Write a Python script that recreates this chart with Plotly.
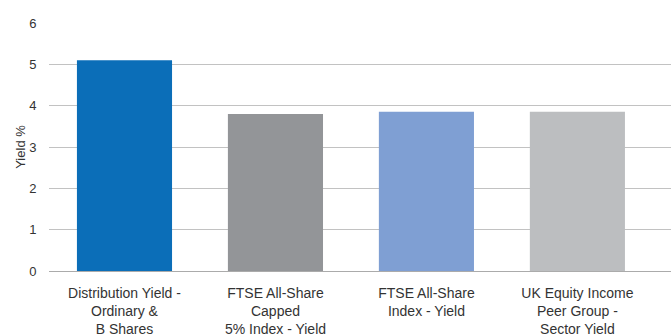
import plotly.graph_objects as go

categories = ["Distribution Yield -<br>Ordinary &<br>B Shares",
              "FTSE All-Share<br>Capped<br>5% Index - Yield",
              "FTSE All-Share<br>Index - Yield",
              "UK Equity Income<br>Peer Group -<br>Sector Yield"]
values = [5.10, 3.80, 3.85, 3.85]
colors = ["#0B6EB8", "#939598", "#7F9FD3", "#BCBEC0"]
y_ticks = [0, 1, 2, 3, 4, 5, 6]

fig = go.Figure(go.Bar(x=list(range(len(categories))), y=values,
                       marker=dict(color=colors, line=dict(width=0)),
                       width=0.63))

fig.update_layout(
    width=671, height=336,
    margin=dict(l=49, r=0, t=23, b=65),
    paper_bgcolor="white", plot_bgcolor="white",
    font=dict(family="Liberation Sans, Arial, sans-serif", size=13, color="#333333"),
    showlegend=False,
    bargap=0.37,
)
fig.update_xaxes(
    tickmode="array", tickvals=list(range(len(categories))), ticktext=categories,
    range=[-0.5, 3.62], showgrid=False, zeroline=False, showline=False,
    ticks="outside", ticklen=9, tickcolor="rgba(0,0,0,0)",
    tickfont=dict(size=14, color="#333333"), automargin=False,
)
fig.update_yaxes(
    range=[0, 6], tickvals=y_ticks, showgrid=True, gridcolor="#C2C2C2", gridwidth=1,
    zeroline=True, zerolinecolor="#ABABAB", zerolinewidth=1,
    ticks="outside", ticklen=9, tickcolor="rgba(0,0,0,0)",
    tickfont=dict(size=13, color="#333333"), automargin=False,
    title=dict(text="Yield %", font=dict(size=13, color="#333333"), standoff=0),
)
fig.write_html("out.html")
